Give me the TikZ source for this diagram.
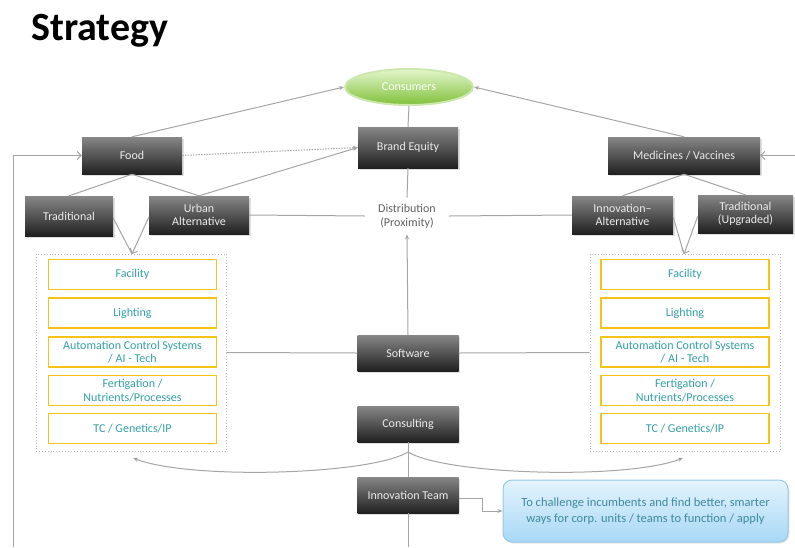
\documentclass[tikz,border=0pt]{standalone}
\usepackage{fontspec}
\setmainfont{Carlito}
\usetikzlibrary{arrows.meta,shapes.geometric,shadows}
\definecolor{ln}{RGB}{165,165,165}
\definecolor{dtop}{RGB}{135,135,135}
\definecolor{dbot}{RGB}{32,32,32}
\definecolor{ygold}{RGB}{245,196,20}
\definecolor{tealtxt}{RGB}{52,160,165}
\definecolor{gtop}{RGB}{228,246,205}
\definecolor{gbot}{RGB}{128,192,58}
\definecolor{gedge}{RGB}{205,232,175}
\definecolor{btop}{RGB}{228,243,253}
\definecolor{bbot}{RGB}{168,216,245}
\definecolor{bedge}{RGB}{150,200,232}
\definecolor{btxt}{RGB}{62,138,160}
\begin{document}
\begin{tikzpicture}[x=1pt,y=-1pt,
  darkbox/.style={rectangle, top color=dtop, bottom color=dbot, draw=none,
    text=white!92!black, font=\fontsize{12}{13.5}\selectfont, align=center,
    minimum width=100pt, minimum height=37pt, inner sep=2pt,
    drop shadow={opacity=0.25,shadow xshift=1.5pt,shadow yshift=-1.5pt}},
  ybox/.style={rectangle, draw=ygold, line width=1.4pt, fill=white,
    text=tealtxt, font=\fontsize{12}{13.5}\selectfont, align=center,
    minimum width=168pt, minimum height=30pt, inner sep=1pt},
  holder/.style={rectangle, draw=gray!55, dotted, line width=0.9pt,
    minimum width=190pt, minimum height=197pt, inner sep=0pt},
  conn/.style={draw=ln, line width=1pt},
  tip/.style={conn, -{Stealth[length=5pt,width=4pt]}},
  barb/.style={conn, -{Straight Barb[length=4pt,width=8pt]}}
]
\useasboundingbox (0,0) rectangle (795,547);

% title
\node[anchor=base west, inner sep=0pt, font=\fontsize{40}{44}\selectfont\bfseries] (title) at (31,40) {Strategy};

% top
\node[ellipse, top color=gtop, bottom color=gbot, draw=gedge, line width=2pt,
  minimum width=128pt, minimum height=36pt, text=white!90!gtop,
  font=\fontsize{12}{13.5}\selectfont] (cons) at (409,87) {Consumers};
\node[darkbox, minimum height=41pt] (brand) at (408,147.5) {Brand Equity};
\node[darkbox] (food) at (132,155.5) {Food};
\node[darkbox, minimum width=152pt] (med) at (684,155.5) {Medicines / Vaccines};

\node[darkbox, minimum width=88pt, minimum height=40pt] (trad) at (69,216) {Traditional};
\node[darkbox, minimum height=38pt] (urban) at (199,215) {Urban\\Alternative};
\node[text=gray!75!black, align=center, inner xsep=13pt, inner ysep=6pt,
  font=\fontsize{12}{14}\selectfont] (dist) at (407,216) {Distribution\\(Proximity)};
\node[darkbox, minimum width=101pt, minimum height=38pt] (innalt) at (622.5,215) {Innovation–\\Alternative};
\node[darkbox, minimum width=95pt, minimum height=38pt] (tradup) at (745.5,214) {Traditional\\(Upgraded)};

% containers
\node[holder] (lhold) at (131,352.5) {};
\node[holder] (rhold) at (685,352.5) {};

\node[ybox] (lf) at (132.5,274.5) {Facility};
\node[ybox] (ll) at (132.5,313) {Lighting};
\node[ybox] (la) at (132.5,352) {Automation Control Systems\\/ AI - Tech};
\node[ybox] (lg) at (132.5,390.5) {Fertigation /\\Nutrients/Processes};
\node[ybox] (lt) at (132.5,428.5) {TC / Genetics/IP};

\node[ybox] (rf) at (685,274.5) {Facility};
\node[ybox] (rl) at (685,313) {Lighting};
\node[ybox] (ra) at (685,352) {Automation Control Systems\\/ AI - Tech};
\node[ybox] (rg) at (685,390.5) {Fertigation /\\Nutrients/Processes};
\node[ybox] (rt) at (685,428.5) {TC / Genetics/IP};

% centre column
\node[darkbox, minimum width=101pt, minimum height=36pt] (soft) at (408,353) {Software};
\node[darkbox, minimum width=101pt, minimum height=36pt] (cons2) at (408,424) {Consulting};
\node[darkbox, minimum width=101pt, minimum height=36pt] (innteam) at (408,495) {Innovation Team};

\node[rectangle, rounded corners=9pt, top color=btop, bottom color=bbot, draw=bedge,
  line width=1pt, minimum width=285pt, minimum height=62pt, align=center,
  text=btxt, font=\fontsize{12.5}{16}\selectfont,
  drop shadow={opacity=0.2,shadow xshift=1.5pt,shadow yshift=-1.5pt}] (blue) at (645.5,511)
  {To challenge incumbents and find better, smarter\\ways for corp. units / teams to function / apply};

% coordinates
\coordinate (leftbot) at (13,547);
\coordinate (rightedge) at (795,155.5);
\coordinate (centbot) at (408,547);
\coordinate (junc) at (408,452);
\coordinate (ltip) at (133,458);
\coordinate (rtip) at (683,458);
\coordinate (lin) at (132,254);
\coordinate (rin) at (684,254);

% connectors
\draw[tip] (food.north) -- (cons.west);
\draw[tip] (med.north) -- (cons.east);
\draw[conn] (cons.south) -- (brand.north);
\draw[tip, dash pattern=on 1.5pt off 1.2pt] (food.east) -- (brand.west);
\draw[tip] (urban.north) -- (brand.west);
\draw[conn] (food.south) -- (trad.north);
\draw[conn] (food.south) -- (urban.north);
\draw[conn] (med.south) -- (innalt.north);
\draw[conn] (med.south) -- (tradup.north);
\draw[conn] (brand.south) -- (dist.north);
\draw[tip] (soft.north) -- (dist.south);
\draw[conn] (urban.east) -- (dist.west);
\draw[conn] (dist.east) -- (innalt.west);
\draw[barb] (leftbot) |- (food.west);
\draw[barb] (rightedge) -- (med.east);
\draw[conn] ([yshift=-2pt]trad.east) -- (lin);
\draw[barb] ([yshift=-2pt]urban.west) -- (lin);
\draw[conn] ([yshift=-2pt]innalt.east) -- (rin);
\draw[barb] ([yshift=-2pt]tradup.west) -- (rin);
\draw[conn] (soft.west) -- (lhold.east);
\draw[conn] (soft.east) -- (rhold.west);
\draw[conn] (cons2.south) -- (innteam.north);
\draw[tip] (junc) .. controls (370,475) and (190,480) .. (ltip);
\draw[tip] (junc) .. controls (446,475) and (626,480) .. (rtip);
\draw[conn] (innteam.south) -- (centbot);
\draw[conn, -{Stealth[length=5pt,width=4pt]}] ([yshift=-3pt]innteam.east) -- ++(24,0) |- (blue.west);
\end{tikzpicture}
\end{document}
